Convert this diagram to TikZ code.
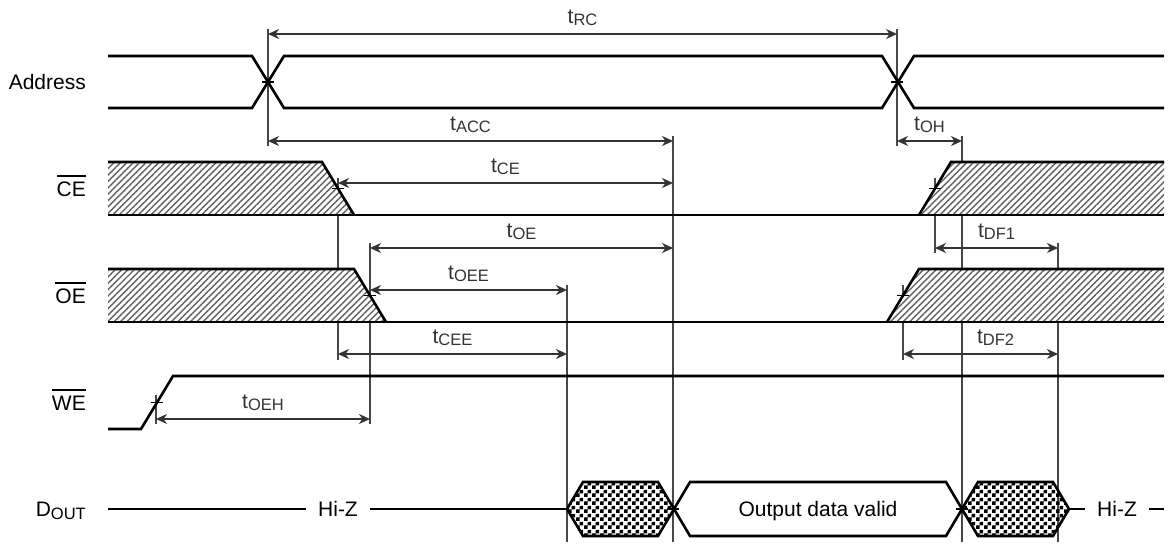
\documentclass[tikz,border=0pt]{standalone}
\usepackage{fontspec}
\setmainfont{Liberation Sans}
\usetikzlibrary{arrows.meta, patterns.meta, positioning}
\tikzset{x=1pt, y=-1pt, >={Stealth[length=11pt, width=10pt, inset=3.5pt]}}

% checker board for unknown data
\pgfdeclarepattern{
    name=checker, type=uncolored,
    bottom left={\pgfpointorigin}, top right={\pgfpoint{8pt}{8pt}},
    tile size={\pgfpoint{8pt}{8pt}},
    code={
        \pgfpathrectangle{\pgfpointorigin}{\pgfpoint{4pt}{4pt}}
        \pgfpathrectangle{\pgfpoint{4pt}{4pt}}{\pgfpoint{4pt}{4pt}}
        \pgfusepath{fill}
    }
}

\newcommand\tname[1]{t\raisebox{-2.5pt}{\fontsize{16.5}{16.5}\selectfont #1}}
\newcommand\barsig[1]{\vbox{\hrule height 1.6pt \kern 4.5pt \hbox{#1}}}

\begin{document}
\begin{tikzpicture}
% Style
[
    line join=miter,
    signal/.style={line width=2.6pt, black},
    marker/.style={line width=1.4pt, marker_color},
    span/.style={<->, line width=1.3pt, span_color},
    cross tick/.style={line width=1.2pt, black},
    hatch/.style={preaction={fill=white},
        pattern={Lines[angle=45, distance=4.5pt, line width=1.4pt]},
        pattern color=hatch_color},
    unknown data/.style={pattern=checker, pattern color=black},
    valid data/.style={fill=white},
    sig name/.style={anchor=base east, inner sep=0pt, font=\fontsize{21}{25}\selectfont},
    time label/.style={midway, anchor=base, yshift=11pt, inner sep=0pt, font=\fontsize{21}{25}\selectfont},
    level text/.style={anchor=base, inner ysep=0pt, inner xsep=12pt, font=\fontsize{21}{25}\selectfont}
]

% Define: Colors
\colorlet{marker_color}{black!72}
\colorlet{span_color}{black!80}
\colorlet{hatch_color}{black!62}

\useasboundingbox (0,0) rectangle (1170,544);

%================================== Markers ==================================
\foreach \name/\x/\top/\bot in {
    m_addr_a/268/29/146, m_addr_b/897/29/146,
    m_acc/673/136/542,   m_oh/962/136/542,
    m_ce/338/178/360,    m_oe/370/243/424,
    m_df_a/935/178/253,  m_df_b/903/285/360,
    m_ee/567/285/542,    m_df_end/1058/243/542,
    m_we/156/395/424
}{
    \draw[marker] (\x,\top) coordinate (\name) -- (\x,\bot);
}

%================================== Signals ==================================
% Draw: Address
\node[sig name] (n_addr) at (86,89.5) {Address};
\draw[signal] (108,56) -- (252,56) -- (284,108) -- (882,108) -- (914,56) -- (1164,56);
\draw[signal] (108,108) -- (252,108) -- (284,56) -- (882,56) -- (914,108) -- (1164,108);

% Draw: CE
\node[sig name] (n_ce) at (86,196) {\barsig{CE}};
\fill[hatch] (108,162) -- (322,162) -- (354,215) -- (108,215) -- cycle;
\fill[hatch] (919,215) -- (951,162) -- (1164,162) -- (1164,215) -- cycle;
\draw[signal] (108,162) -- (322,162) -- (354,215);
\draw[signal] (919,215) -- (951,162) -- (1164,162);
\draw[signal] (108,215) -- (1164,215);

% Draw: OE
\node[sig name] (n_oe) at (86,303) {\barsig{OE}};
\fill[hatch] (108,269) -- (354,269) -- (386,322) -- (108,322) -- cycle;
\fill[hatch] (887,322) -- (919,269) -- (1164,269) -- (1164,322) -- cycle;
\draw[signal] (108,269) -- (354,269) -- (386,322);
\draw[signal] (887,322) -- (919,269) -- (1164,269);
\draw[signal] (108,322) -- (1164,322);

% Draw: WE
\node[sig name] (n_we) at (86,410) {\barsig{WE}};
\draw[signal] (108,429) -- (141,429) -- (173,376) -- (1164,376);

% Draw: DOUT
\node[sig name] (n_dout) at (86,516.5) {D\raisebox{-2.5pt}{\fontsize{16.5}{16.5}\selectfont OUT}};
\node[level text] (n_hiz_a) at (338,516.5) {Hi-Z};
\node[level text] (n_hiz_b) at (1117,516.5) {Hi-Z};
\draw[signal] (108,509) -- (n_hiz_a.west |- 0,509);
\draw[signal] (n_hiz_a.east |- 0,509) -- (567,509);
\draw[signal] (1069,509) -- (n_hiz_b.west |- 0,509);
\draw[signal] (n_hiz_b.east |- 0,509) -- (1164,509);
\foreach \l/\r/\sty in {567/674/unknown data, 962/1069/unknown data, 674/962/valid data}{
    \draw[signal, \sty] (\l,509) -- (\l+16,482) -- (\r-16,482) -- (\r,509)
        -- (\r-16,536) -- (\l+16,536) -- cycle;
}
\node[level text, inner xsep=0pt] (n_valid) at (818,516.5) {Output data valid};

% Draw: Ticks on edges
\foreach \x/\y in {268/82, 897/82, 338/188.5, 370/295.5, 935/188.5,
                   903/295.5, 157/402.5, 673/509, 962/509}{
    \draw[cross tick] (\x-6,\y) -- (\x+6,\y);
}

%=================================== Spans ===================================
\draw[span] (m_addr_a |- 0,34)  -- node[time label] {\tname{RC}}  (m_addr_b |- 0,34);
\draw[span] (m_addr_a |- 0,141) -- node[time label] {\tname{ACC}} (m_acc |- 0,141);
\draw[span] (m_addr_b |- 0,141) -- node[time label] {\tname{OH}}  (m_oh |- 0,141);
\draw[span] (m_ce |- 0,183)     -- node[time label] {\tname{CE}}  (m_acc |- 0,183);
\draw[span] (m_oe |- 0,248)     -- node[time label] {\tname{OE}}  (m_acc |- 0,248);
\draw[span] (m_df_a |- 0,248)   -- node[time label] {\tname{DF1}} (m_df_end |- 0,248);
\draw[span] (m_oe |- 0,290)     -- node[time label] {\tname{OEE}} (m_ee |- 0,290);
\draw[span] (m_ce |- 0,354)     -- node[time label] {\tname{CEE}} (m_ee |- 0,354);
\draw[span] (m_df_b |- 0,354)   -- node[time label, xshift=15pt] {\tname{DF2}} (m_df_end |- 0,354);
\draw[span] (m_we |- 0,419)     -- node[time label] {\tname{OEH}} (m_oe |- 0,419);
%==================================== END ====================================
\end{tikzpicture}
\end{document}
